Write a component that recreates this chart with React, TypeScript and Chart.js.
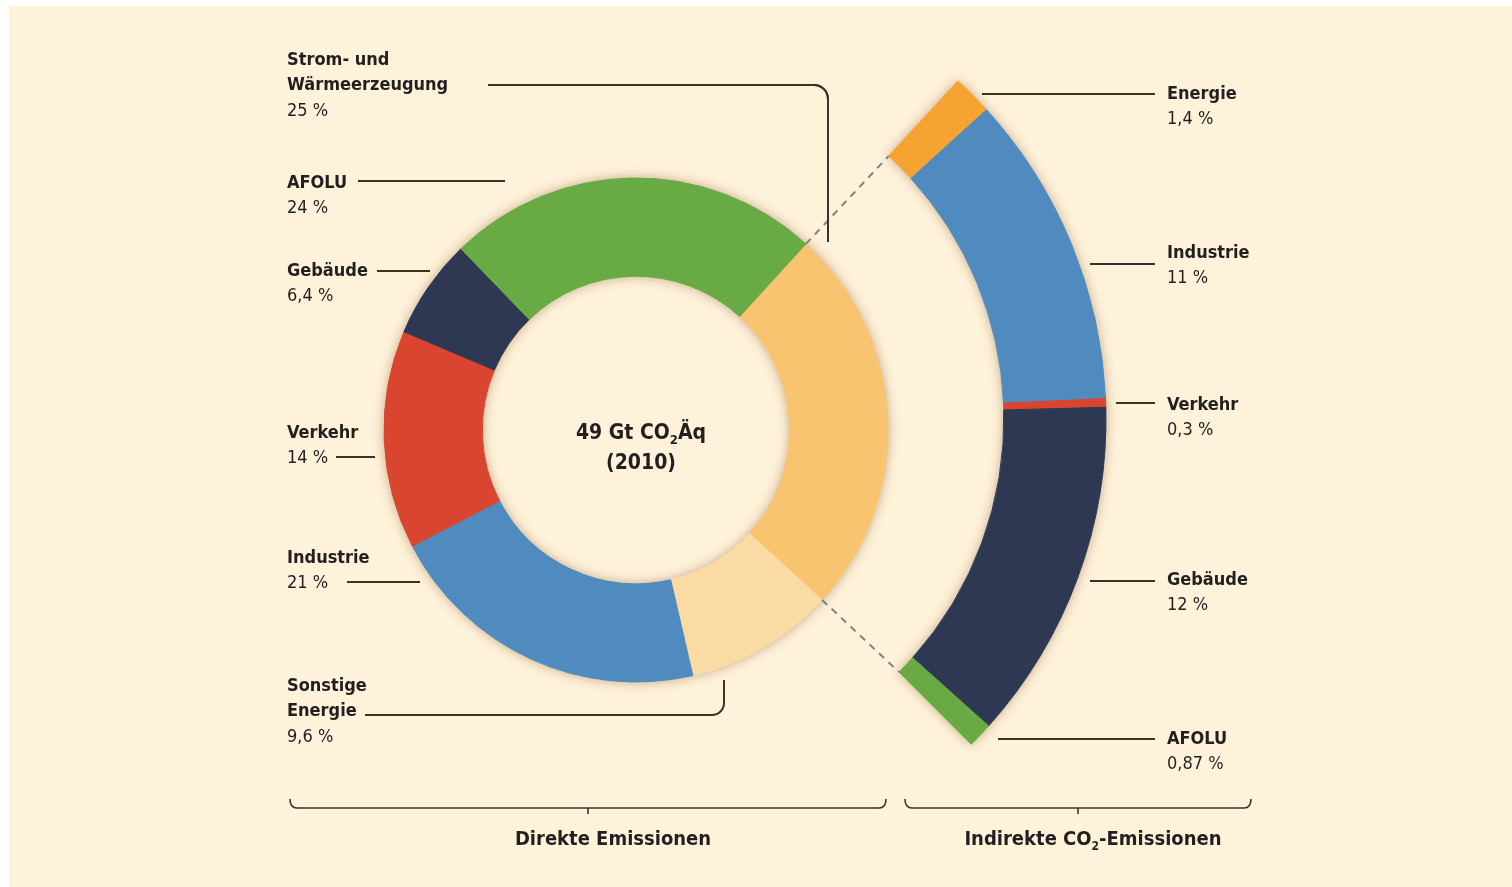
import { useEffect, useRef } from "react";
import { Chart, registerables } from "chart.js";

Chart.register(...registerables);

// ---------------- data ----------------
const directCategories = ["Strom- und Wärmeerzeugung", "Sonstige Energie", "Industrie", "Verkehr", "Gebäude", "AFOLU"];
const directShares = [25, 9.6, 21, 14, 6.4, 24];
const indirectCategories = ["Energie", "Industrie", "Verkehr", "Gebäude", "AFOLU"];
const indirectShares = [1.4, 11, 0.3, 12, 0.87];
const totalText = { before: "49 Gt CO", sub: "2", after: "Äq" };
const yearText = "(2010)";
const directTitle = { before: "Direkte Emissionen", sub: "", after: "" };
const indirectTitle = { before: "Indirekte CO", sub: "2", after: "-Emissionen" };

// ---------------- styles / layout ----------------
const directColors = ["#F8C470", "#FBDBA4", "#4F8BBE", "#DA4530", "#2E3852", "#68AB44"];
const indirectColors = ["#F5A432", "#4F8BBE", "#DA4530", "#2E3852", "#68AB44"];
const BG = "#FEF2DA";
const TEXT = "#231F20";
const LINE_COLOR = "#3A3129";
const FONT = '"DejaVu Sans Condensed", "DejaVu Sans", sans-serif';
const LINE_H = 25.5;

const MAIN = { cx: 636, cy: 430, r: 252, cutout: "61%", rotation: 42.4 };
const SIDE = { cx: 646, cy: 419, r: 460, cutout: "77.8%", rotation: 42.7, circumference: 92.3 };

type Lay = { x: number; y: number; breakAfter?: number; leader: number[][]; corner?: number };
const directLabelLayout: Lay[] = [
  { x: 287, y: 60, breakAfter: 2, leader: [[488, 85], [828, 85], [828, 242]], corner: 14 },
  { x: 287, y: 686, breakAfter: 1, leader: [[365, 715], [724, 715], [724, 680]], corner: 12 },
  { x: 287, y: 558, leader: [[347, 582], [420, 582]] },
  { x: 287, y: 433, leader: [[336, 457], [375, 457]] },
  { x: 287, y: 271, leader: [[377, 271], [430, 271]] },
  { x: 287, y: 183, leader: [[358, 181], [505, 181]] },
];
const indirectLabelLayout: Lay[] = [
  { x: 1167, y: 94, leader: [[982, 94], [1155, 94]] },
  { x: 1167, y: 253, leader: [[1090, 264], [1155, 264]] },
  { x: 1167, y: 405, leader: [[1116, 403], [1155, 403]] },
  { x: 1167, y: 580, leader: [[1090, 581], [1155, 581]] },
  { x: 1167, y: 739, leader: [[998, 739], [1155, 739]] },
];
const brackets = [
  { x0: 290, x1: 886, y: 808, ty: 840, title: directTitle },
  { x0: 905, x1: 1251, y: 808, ty: 840, title: indirectTitle },
];

const fmt = (v: number) => `${String(v).replace(".", ",")} %`;

function polyline(ctx: CanvasRenderingContext2D, pts: number[][], r = 0) {
  ctx.beginPath();
  ctx.moveTo(pts[0][0], pts[0][1]);
  for (let i = 1; i < pts.length - 1; i++) ctx.arcTo(pts[i][0], pts[i][1], pts[i + 1][0], pts[i + 1][1], r);
  const last = pts[pts.length - 1];
  ctx.lineTo(last[0], last[1]);
  ctx.stroke();
}

function drawLabel(ctx: CanvasRenderingContext2D, name: string, value: string, lay: Lay) {
  const words = name.split(" ");
  const lines = lay.breakAfter
    ? [words.slice(0, lay.breakAfter).join(" "), words.slice(lay.breakAfter).join(" ")]
    : [name];
  ctx.fillStyle = TEXT;
  ctx.textAlign = "left";
  ctx.textBaseline = "middle";
  ctx.font = `bold 18px ${FONT}`;
  lines.forEach((l, i) => ctx.fillText(l, lay.x, lay.y + i * LINE_H));
  ctx.font = `18px ${FONT}`;
  ctx.fillText(value, lay.x, lay.y + lines.length * LINE_H);
  ctx.strokeStyle = LINE_COLOR;
  ctx.lineWidth = 2;
  polyline(ctx, lay.leader, lay.corner || 0);
}

function drawSubText(ctx: CanvasRenderingContext2D, t: { before: string; sub: string; after: string }, cx: number, y: number, size: number) {
  const big = `bold ${size}px ${FONT}`;
  const small = `bold ${Math.round(size * 0.62)}px ${FONT}`;
  ctx.font = big;
  const w1 = ctx.measureText(t.before).width;
  const w3 = ctx.measureText(t.after).width;
  ctx.font = small;
  const w2 = t.sub ? ctx.measureText(t.sub).width : 0;
  let x = cx - (w1 + w2 + w3) / 2;
  ctx.textAlign = "left";
  ctx.textBaseline = "middle";
  ctx.fillStyle = TEXT;
  ctx.font = big;
  ctx.fillText(t.before, x, y);
  x += w1;
  if (t.sub) {
    ctx.font = small;
    ctx.fillText(t.sub, x, y + size * 0.32);
    x += w2;
  }
  ctx.font = big;
  ctx.fillText(t.after, x, y);
}

const ringShadow = {
  id: "ringShadow",
  beforeDatasetsDraw(chart: any) {
    const arcs = chart.getDatasetMeta(0).data as any[];
    if (!arcs.length) return;
    const a0 = arcs[0];
    const a1 = arcs[arcs.length - 1];
    const ctx: CanvasRenderingContext2D = chart.ctx;
    ctx.save();
    ctx.shadowColor = "rgba(120, 70, 30, 0.45)";
    ctx.shadowBlur = 12;
    ctx.fillStyle = "#E8D3B0";
    ctx.beginPath();
    ctx.arc(a0.x, a0.y, a0.outerRadius, a0.startAngle, a1.endAngle);
    ctx.arc(a0.x, a0.y, a0.innerRadius, a1.endAngle, a0.startAngle, true);
    ctx.closePath();
    ctx.fill();
    ctx.restore();
  },
};

function placeCenter(chart: any, cx: number, cy: number) {
  const el = chart.getDatasetMeta(0).data[0];
  const dx = cx - el.x;
  const dy = cy - el.y;
  chart.options.layout.padding = {
    left: Math.max(0, 2 * dx),
    right: Math.max(0, -2 * dx),
    top: Math.max(0, 2 * dy),
    bottom: Math.max(0, -2 * dy),
  };
  chart.update();
}

export default function App() {
  const mainRef = useRef<HTMLCanvasElement>(null);
  const sideRef = useRef<HTMLCanvasElement>(null);

  useEffect(() => {
    if (!mainRef.current || !sideRef.current) return;

    const mainLabels = {
      id: "mainLabels",
      afterDraw(chart: any) {
        const ctx: CanvasRenderingContext2D = chart.ctx;
        const arcs = chart.getDatasetMeta(0).data as any[];
        ctx.save();
        directCategories.forEach((name, i) => drawLabel(ctx, name, fmt(directShares[i]), directLabelLayout[i]));
        const c = arcs[0];
        drawSubText(ctx, totalText, c.x + 5, c.y + 4, 21);
        ctx.font = `bold 21px ${FONT}`;
        ctx.textAlign = "center";
        ctx.fillText(yearText, c.x + 5, c.y + 34);
        brackets.forEach((b) => {
          ctx.strokeStyle = LINE_COLOR;
          ctx.lineWidth = 1.6;
          const mid = (b.x0 + b.x1) / 2;
          ctx.beginPath();
          ctx.moveTo(b.x0, b.y - 9);
          ctx.quadraticCurveTo(b.x0, b.y, b.x0 + 7, b.y);
          ctx.lineTo(b.x1 - 7, b.y);
          ctx.quadraticCurveTo(b.x1, b.y, b.x1, b.y - 9);
          ctx.moveTo(mid, b.y);
          ctx.lineTo(mid, b.y + 6);
          ctx.stroke();
          drawSubText(ctx, b.title, mid + 25 - (b === brackets[0] ? 0 : 10), b.ty, 20);
        });
        ctx.restore();
      },
    };

    const main = new Chart(mainRef.current, {
      type: "doughnut",
      data: {
        labels: directCategories,
        datasets: [
          {
            data: directShares,
            backgroundColor: directColors,
            borderColor: directColors,
            borderWidth: 1,
          },
        ],
      },
      options: {
        responsive: false,
        animation: false,
        events: [],
        rotation: MAIN.rotation,
        cutout: MAIN.cutout,
        radius: MAIN.r,
        layout: { padding: 0 },
        plugins: { legend: { display: false }, tooltip: { enabled: false } },
      } as any,
      plugins: [ringShadow, mainLabels],
    });
    placeCenter(main, MAIN.cx, MAIN.cy);

    const sideLabels = {
      id: "sideLabels",
      afterDraw(chart: any) {
        const ctx: CanvasRenderingContext2D = chart.ctx;
        const arcs = chart.getDatasetMeta(0).data as any[];
        const m = main.getDatasetMeta(0).data[0] as any;
        const s0 = arcs[0];
        const s1 = arcs[arcs.length - 1];
        ctx.save();
        ctx.strokeStyle = "#85807A";
        ctx.lineWidth = 2;
        ctx.setLineDash([7, 6]);
        ctx.beginPath();
        ctx.moveTo(m.x + Math.cos(m.startAngle) * m.outerRadius, m.y + Math.sin(m.startAngle) * m.outerRadius);
        ctx.lineTo(s0.x + Math.cos(s0.startAngle) * s0.innerRadius, s0.y + Math.sin(s0.startAngle) * s0.innerRadius);
        ctx.moveTo(m.x + Math.cos(m.endAngle) * m.outerRadius, m.y + Math.sin(m.endAngle) * m.outerRadius);
        ctx.lineTo(s1.x + Math.cos(s1.endAngle) * s1.innerRadius, s1.y + Math.sin(s1.endAngle) * s1.innerRadius);
        ctx.stroke();
        ctx.setLineDash([]);
        // redraw the vertical leader of the first direct label on top of the dashed line
        ctx.strokeStyle = LINE_COLOR;
        ctx.lineWidth = 2;
        polyline(ctx, directLabelLayout[0].leader, directLabelLayout[0].corner || 0);
        indirectCategories.forEach((name, i) => drawLabel(ctx, name, fmt(indirectShares[i]), indirectLabelLayout[i]));
        ctx.restore();
      },
    };

    const side = new Chart(sideRef.current, {
      type: "doughnut",
      data: {
        labels: indirectCategories,
        datasets: [
          {
            data: indirectShares,
            backgroundColor: indirectColors,
            borderColor: indirectColors,
            borderWidth: 1,
          },
        ],
      },
      options: {
        responsive: false,
        animation: false,
        events: [],
        rotation: SIDE.rotation,
        circumference: SIDE.circumference,
        cutout: SIDE.cutout,
        radius: SIDE.r,
        layout: { padding: 0 },
        plugins: { legend: { display: false }, tooltip: { enabled: false } },
      } as any,
      plugins: [ringShadow, sideLabels],
    });
    placeCenter(side, SIDE.cx, SIDE.cy);

    return () => {
      main.destroy();
      side.destroy();
    };
  }, []);

  return (
    <div style={{ position: "fixed", left: 0, top: 0, width: 1512, height: 887, background: "#fff", overflow: "hidden" }}>
      <div style={{ position: "absolute", left: 9, top: 6, right: 0, bottom: 0, background: BG }} />
      <canvas ref={mainRef} width={1512} height={887} style={{ position: "absolute", left: 0, top: 0 }} />
      <canvas ref={sideRef} width={1512} height={887} style={{ position: "absolute", left: 0, top: 0 }} />
    </div>
  );
}
